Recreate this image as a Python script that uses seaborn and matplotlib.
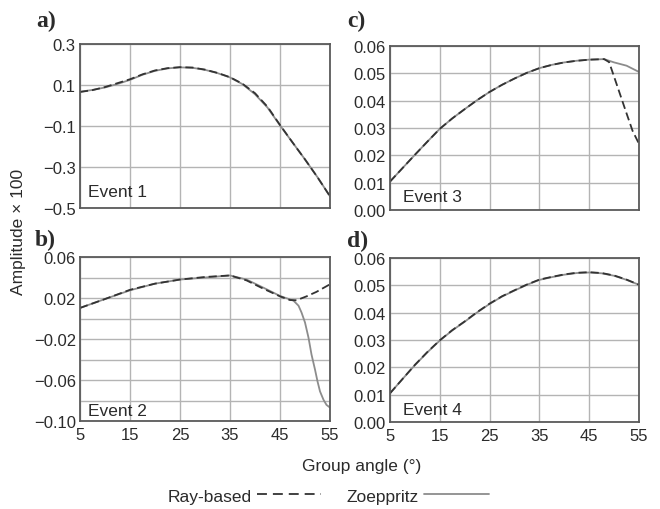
import matplotlib
matplotlib.use("Agg")
import matplotlib.pyplot as plt
from matplotlib.ticker import FuncFormatter, MultipleLocator
from matplotlib.lines import Line2D
import seaborn as sns
import pandas as pd

# ---------------- data ----------------
# Panel a) Event 1
a_angle = [5, 7.5, 10, 12.5, 15, 17.5, 20, 22.5, 25, 27.5, 30, 32.5, 35, 37.5, 40, 42.5, 45, 47.5, 50, 52.5, 55]
a_zoep = [0.067, 0.076, 0.088, 0.105, 0.125, 0.150, 0.169, 0.181, 0.186, 0.184, 0.174, 0.158, 0.137, 0.104, 0.055,
          -0.010, -0.097, -0.180, -0.263, -0.350, -0.443]
a_ray = [0.066, 0.075, 0.090, 0.109, 0.128, 0.152, 0.171, 0.182, 0.187, 0.185, 0.175, 0.159, 0.138, 0.106, 0.060,
         -0.006, -0.095, -0.180, -0.263, -0.350, -0.443]

# Panel b) Event 2
b_angle_z = [5, 10, 15, 20, 25, 30, 35, 38.3, 41.7, 45, 47.7, 48.7, 49.3, 50, 50.7, 51.3, 52, 52.5, 53, 53.7, 54.3, 55]
b_zoep = [0.0103, 0.019, 0.0275, 0.034, 0.038, 0.040, 0.042, 0.038, 0.030, 0.022, 0.0174, 0.0125, 0.0059, -0.0039,
          -0.0187, -0.0351, -0.0498, -0.0613, -0.0711, -0.0793, -0.0843, -0.0869]
b_angle_r = [5, 10, 15, 20, 25, 30, 35, 38.3, 41.7, 45, 47, 48.3, 50.3, 52.3, 55]
b_ray = [0.0103, 0.019, 0.028, 0.034, 0.038, 0.0405, 0.042, 0.0372, 0.029, 0.0216, 0.018, 0.0178, 0.0216, 0.026, 0.0334]

# Panel c) Event 3
c_angle_z = [5, 7.5, 10, 12.5, 15, 17.5, 20, 22.5, 25, 27.5, 30, 32.5, 35, 37.5, 40, 42.5, 45, 48, 50, 52.5, 55]
c_zoep = [0.0104, 0.0153, 0.0202, 0.0250, 0.0297, 0.0335, 0.0369, 0.0402, 0.0432, 0.0458, 0.0481, 0.0502, 0.0519,
          0.0531, 0.0540, 0.0546, 0.0550, 0.0552, 0.0540, 0.0528, 0.0505]
c_angle_r = [5, 7.5, 10, 12.5, 15, 17.5, 20, 22.5, 25, 27.5, 30, 32.5, 35, 37.5, 40, 42.5, 45, 48, 49, 50.7, 52.3, 53.7, 55]
c_ray = [0.0104, 0.0153, 0.0202, 0.0250, 0.0297, 0.0335, 0.0369, 0.0402, 0.0432, 0.0458, 0.0481, 0.0502, 0.0519,
         0.0531, 0.0540, 0.0546, 0.0550, 0.0552, 0.0541, 0.0450, 0.0364, 0.0290, 0.0242]

# Panel d) Event 4
d_angle = [5, 7.5, 10, 12.5, 15, 17.5, 20, 22.5, 25, 27.5, 30, 32.5, 35, 37.5, 40, 42.5, 45, 47.5, 50, 52.5, 55]
d_zoep = [0.0105, 0.0157, 0.0208, 0.0255, 0.0298, 0.0335, 0.0367, 0.0401, 0.0432, 0.0459, 0.0481, 0.0502, 0.0520,
          0.0530, 0.0539, 0.0545, 0.0547, 0.0544, 0.0535, 0.0520, 0.0502]
d_ray = [0.0105, 0.0157, 0.0209, 0.0256, 0.0299, 0.0336, 0.0368, 0.0402, 0.0433, 0.0460, 0.0482, 0.0503, 0.0521,
         0.0531, 0.0540, 0.0546, 0.0548, 0.0545, 0.0536, 0.0521, 0.0502]

x_ticks = [5, 15, 25, 35, 45, 55]
a_yticks = [-0.5, -0.3, -0.1, 0.1, 0.3]
b_yticks = [-0.10, -0.06, -0.02, 0.02, 0.06]
cd_yticks = [0.00, 0.01, 0.02, 0.03, 0.04, 0.05, 0.06]

panel_letters = ["a)", "b)", "c)", "d)"]
event_names = ["Event 1", "Event 2", "Event 3", "Event 4"]
series_names = ["Zoeppritz", "Ray-based"]
x_label = "Group angle (\u00b0)"
y_label = "Amplitude \u00d7 100"

# ---------------- style ----------------
sns.set_theme(style="white")
plt.rcParams["font.family"] = ["Liberation Sans", "DejaVu Sans"]
TXT = "#2b2b2b"
GRID = "#b4b4b4"
SPINE = "#5a5a5a"
COL = {"Zoeppritz": "#8c8c8c", "Ray-based": "#333333"}
DASH = {"Zoeppritz": "", "Ray-based": (4.5, 2.2)}
FS = 12.5
TFS = 12


def frame(x1, y1, x2, y2):
    return x1 / 660, 1 - y2 / 510, (x2 - x1) / 660, (y2 - y1) / 510


fig = plt.figure(figsize=(6.6, 5.1), dpi=100)
axes = {
    "a": fig.add_axes(frame(80, 45, 330, 209)),
    "b": fig.add_axes(frame(80, 258, 330, 422)),
    "c": fig.add_axes(frame(390, 47, 639, 211)),
    "d": fig.add_axes(frame(390, 259, 639, 423)),
}


def make_df(ang_z, zoep, ang_r, ray):
    return pd.concat([
        pd.DataFrame({"angle": ang_z, "amp": zoep, "method": "Zoeppritz"}),
        pd.DataFrame({"angle": ang_r, "amp": ray, "method": "Ray-based"}),
    ], ignore_index=True)


data = {
    "a": make_df(a_angle, a_zoep, a_angle, a_ray),
    "b": make_df(b_angle_z, b_zoep, b_angle_r, b_ray),
    "c": make_df(c_angle_z, c_zoep, c_angle_r, c_ray),
    "d": make_df(d_angle, d_zoep, d_angle, d_ray),
}

def fmt(decimals):
    return FuncFormatter(lambda v, p: (f"{v:.{decimals}f}").replace("-", "\u2212"))

settings = {
    "a": dict(ylim=(-0.5, 0.3), yticks=a_yticks, dec=1, minor=None, bottom=False),
    "b": dict(ylim=(-0.10, 0.06), yticks=b_yticks, dec=2, minor=0.02, bottom=True),
    "c": dict(ylim=(0.0, 0.06), yticks=cd_yticks, dec=2, minor=None, bottom=False),
    "d": dict(ylim=(0.0, 0.06), yticks=cd_yticks, dec=2, minor=None, bottom=True),
}
event_pos = {"a": (0.032, 0.075), "b": (0.032, 0.035), "c": (0.052, 0.055), "d": (0.052, 0.05)}

for i, key in enumerate(["a", "b", "c", "d"]):
    ax = axes[key]
    st = settings[key]
    sns.lineplot(data=data[key], x="angle", y="amp", hue="method", style="method",
                 hue_order=series_names, style_order=series_names,
                 palette=COL, dashes=DASH, estimator=None, sort=True,
                 linewidth=1.3, legend=False, ax=ax)
    ax.set_xlim(5, 55)
    ax.set_ylim(*st["ylim"])
    ax.set_xticks(x_ticks)
    ax.set_yticks(st["yticks"])
    ax.yaxis.set_major_formatter(fmt(st["dec"]))
    if st["minor"]:
        ax.yaxis.set_minor_locator(MultipleLocator(st["minor"]))
        ax.grid(True, which="minor", axis="y", color=GRID, linewidth=1.0)
    ax.grid(True, which="major", color=GRID, linewidth=1.0)
    ax.set_axisbelow(True)
    ax.set_xlabel("")
    ax.set_ylabel("")
    ax.tick_params(axis="both", which="both", length=0, labelsize=TFS, colors=TXT, pad=3)
    ax.tick_params(axis="x", labelbottom=st["bottom"], pad=4)
    for s in ax.spines.values():
        s.set_color(SPINE)
        s.set_linewidth(1.3)
    ax.text(*event_pos[key], event_names[i], transform=ax.transAxes, fontsize=FS,
            color=TXT, ha="left", va="baseline")

# panel letters
letter_pos = {"a": (36, 21), "b": (35, 240), "c": (347, 21), "d": (347, 241)}
for i, key in enumerate(["a", "b", "c", "d"]):
    x, y = letter_pos[key]
    fig.text(x / 660, 1 - y / 510, panel_letters[i], fontsize=17, fontweight="bold",
             family=["Liberation Serif", "DejaVu Serif"], color=TXT, ha="left", va="center")

fig.text(362 / 660, 1 - 467 / 510, x_label, fontsize=FS, color=TXT, ha="center", va="center")
fig.text(19 / 660, 1 - 232 / 510, y_label, fontsize=FS, color=TXT, ha="center", va="center",
         rotation=90)

handles = [Line2D([], [], color=COL["Ray-based"], linewidth=1.3, dashes=(5.5, 3.3)),
           Line2D([], [], color=COL["Zoeppritz"], linewidth=1.3)]
fig.legend(handles, ["Ray-based", "Zoeppritz"], loc="center", bbox_to_anchor=(328 / 660, 1 - 497 / 510),
           ncol=2, frameon=False, markerfirst=False, handlelength=3.7, handletextpad=0.3,
           columnspacing=1.5, fontsize=FS, labelcolor=TXT)

fig.savefig("out.png", dpi=100)
